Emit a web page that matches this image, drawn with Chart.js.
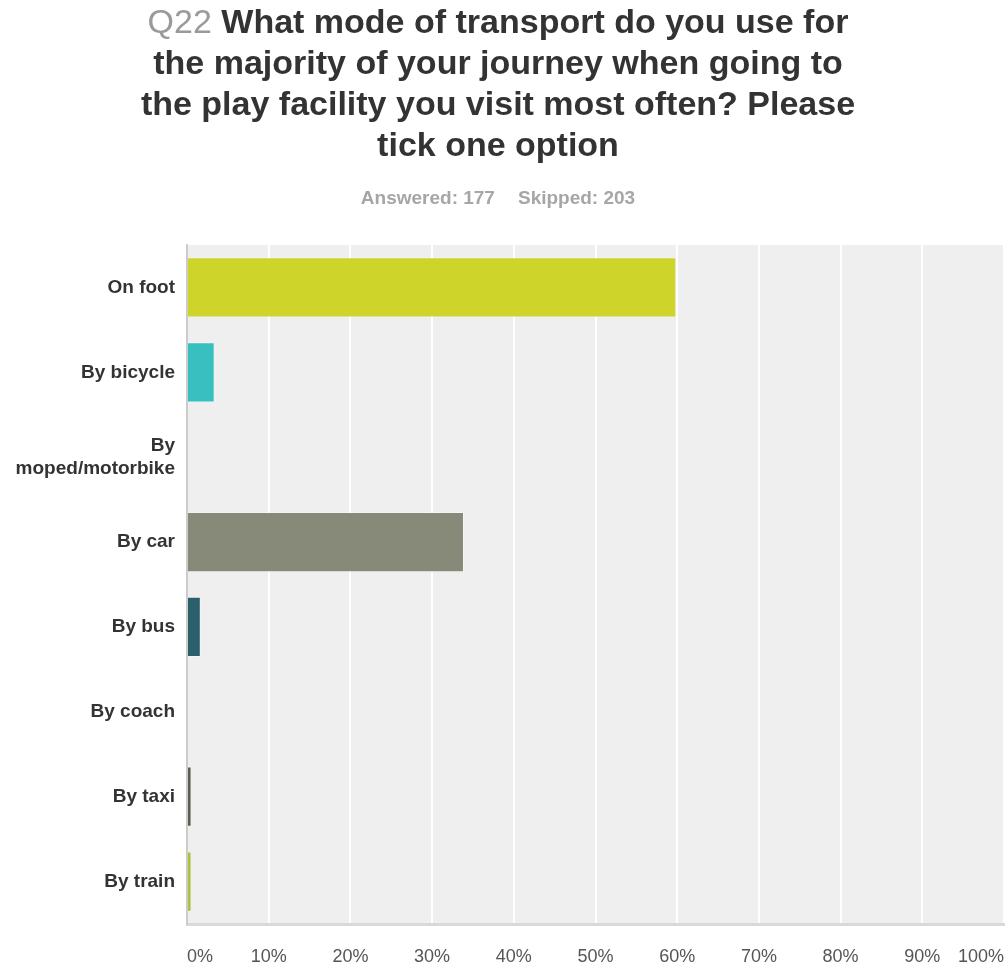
<!DOCTYPE html>
<html><head><meta charset="utf-8">
<script src="https://cdn.jsdelivr.net/npm/chart.js@4"></script>
<style>
html,body{margin:0;padding:0;background:#fff;width:1006px;height:969px;overflow:hidden;font-family:"Liberation Sans",Arial,sans-serif;}
#title{position:absolute;left:0;top:1px;width:996px;text-align:center;font-size:34px;line-height:41px;font-weight:bold;color:#333;}
#title .q{color:#9a9a9a;font-weight:normal;}
#sub{position:absolute;left:0;top:187px;width:996px;text-align:center;font-size:19px;font-weight:bold;color:#a6a6a6;line-height:22px;}
#sub span+span{margin-left:23px;}
canvas{position:absolute;left:0;top:0;}
</style></head><body>
<canvas id="c" width="1006" height="969"></canvas>
<div id="title"><span class="q">Q22</span> What mode of transport do you use for<br>the majority of your journey when going to<br>the play facility you visit most often? Please<br>tick one option</div>
<div id="sub"><span>Answered: 177</span><span>Skipped: 203</span></div>
<script>
const categories = ['On foot', 'By bicycle', ['By', 'moped/motorbike'], 'By car', 'By bus', 'By coach', 'By taxi', 'By train'];
const percentages = [59.89, 3.39, 0, 33.90, 1.69, 0, 0.56, 0.56];
const barColors = ['#cfd42a', '#38bfc0', '#999999', '#878a78', '#2b5f6b', '#999999', '#5c5c4d', '#aac33a'];
const tickValues = [0, 10, 20, 30, 40, 50, 60, 70, 80, 90, 100];

const plotBg = {
  id: 'plotBg',
  beforeDraw(chart) {
    const {ctx, chartArea: a} = chart;
    ctx.save();
    ctx.fillStyle = '#efefef';
    ctx.fillRect(a.left, a.top, a.right - a.left, a.bottom - a.top);
    ctx.restore();
  }
};

new Chart(document.getElementById('c'), {
  type: 'bar',
  data: {
    labels: categories,
    datasets: [{
      data: percentages,
      backgroundColor: barColors,
      borderColor: 'rgba(255,255,255,0.35)',
      borderWidth: 1,
      barPercentage: 0.71,
      categoryPercentage: 1
    }]
  },
  options: {
    indexAxis: 'y',
    responsive: false,
    animation: false,
    layout: {padding: {top: 245, right: 2, left: 0, bottom: 0}},
    plugins: {legend: {display: false}, tooltip: {enabled: false}},
    scales: {
      x: {
        min: 0, max: 100,
        afterBuildTicks(s) { s.ticks = tickValues.map(v => ({value: v})); },
        afterFit(s) { s.height = 45; s.paddingLeft = 0; s.paddingRight = 0; },
        ticks: {
          callback: v => v + '%',
          align: 'inner',
          maxRotation: 0,
          autoSkip: false,
          padding: 22,
          color: '#555',
          font: {family: '"Liberation Sans", Arial, sans-serif', size: 18}
        },
        grid: {color: '#ffffff', lineWidth: 2, drawTicks: false},
        border: {color: '#d9d9d9', width: 3}
      },
      y: {
        afterFit(s) { s.width = 187; },
        ticks: {
          padding: 12,
          color: '#333',
          font: {family: '"Liberation Sans", Arial, sans-serif', size: 19, weight: 'bold'}
        },
        grid: {display: false, drawTicks: false},
        border: {color: '#cccccc', width: 2}
      }
    }
  },
  plugins: [plotBg]
});
</script>
</body></html>
